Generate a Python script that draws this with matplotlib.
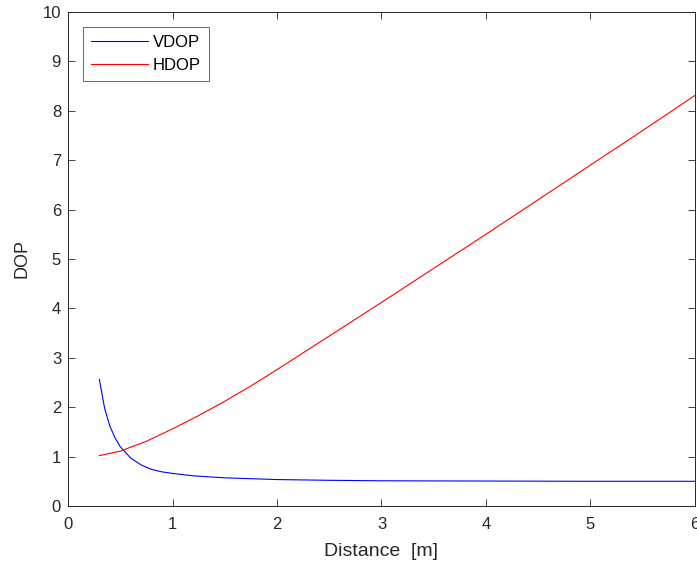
import numpy as np
import matplotlib.pyplot as plt

plt.rcParams['font.family'] = ['Liberation Sans', 'DejaVu Sans']

# values
dist_v = [0.3, 0.35, 0.4, 0.45, 0.5, 0.6, 0.7, 0.8, 0.9, 1.0, 1.2, 1.5,
          2.0, 2.5, 3.0, 4.0, 5.0, 6.0]
vdop = [2.56, 1.98, 1.62, 1.38, 1.20, 0.97, 0.83, 0.74, 0.69, 0.66, 0.61, 0.57,
        0.535, 0.52, 0.51, 0.505, 0.50, 0.50]

dist_h = [0.3, 0.5, 0.75, 1.0, 1.25, 1.5, 1.75, 2.0, 2.5, 3.0, 3.5, 4.0,
          4.5, 5.0, 5.5, 6.0]
hdop = [1.02, 1.11, 1.31, 1.56, 1.83, 2.12, 2.43, 2.76, 3.44, 4.12, 4.81, 5.50,
        6.20, 6.90, 7.60, 8.31]

ax_col = (0.15, 0.15, 0.15)

fig = plt.figure(figsize=(6.97, 5.70), dpi=100)
ax = fig.add_axes([0.0976, 0.1123, 0.8994, 0.8667])

ax.plot(dist_v, vdop, color='blue', lw=0.8, label='VDOP')
ax.plot(dist_h, hdop, color='red', lw=0.8, label='HDOP')

ax.set_xlim(0, 6)
ax.set_ylim(0, 10)
ax.set_xticks(range(0, 7))
ax.set_yticks(range(0, 11))
ax.tick_params(direction='in', length=5, width=0.6, colors=ax_col,
               labelsize=12, top=True, right=True, pad=5)
ax.tick_params(axis='x', pad=8)
for s in ax.spines.values():
    s.set_color(ax_col)
    s.set_linewidth(0.7)

ax.set_xlabel('Distance  [m]', fontsize=14, color=ax_col, labelpad=8)
ax.set_ylabel('DOP', fontsize=13, color=ax_col, labelpad=9)

leg = ax.legend(loc='upper left', fontsize=12, frameon=True, fancybox=False,
                edgecolor=ax_col, borderpad=0.5, handlelength=3.4,
                handletextpad=0.3, borderaxespad=0.9, labelspacing=0.45)
leg.get_frame().set_linewidth(0.6)

fig.savefig('out.png', dpi=100)
